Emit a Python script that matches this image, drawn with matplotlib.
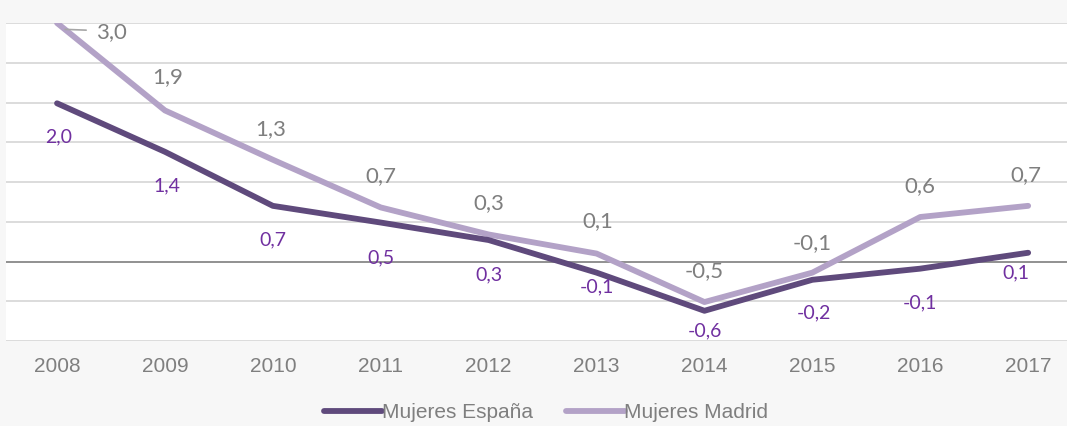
import matplotlib.pyplot as plt

years = ['2008', '2009', '2010', '2011', '2012', '2013', '2014', '2015', '2016', '2017']
espana = [1.99, 1.38, 0.70, 0.49, 0.27, -0.14, -0.62, -0.23, -0.09, 0.11]
madrid = [3.00, 1.90, 1.28, 0.68, 0.34, 0.10, -0.51, -0.14, 0.56, 0.70]
series_names = ['Mujeres España', 'Mujeres Madrid']

# label offsets in pixels (dx, dy) relative to the point
off_espana = [(2, -34), (2, -34), (0, -34), (0, -35), (0, -35),
              (0, -14), (0, -20), (2, -33), (0, -34), (-12, -20)]
off_madrid = [(54, -9), (3, 33), (-2, 31), (0, 31), (0, 31),
              (1, 32), (0, 31), (0, 30), (0, 31), (-2, 31)]

dark = '#5f4a7c'
light = '#b3a2c7'
bg = '#f7f7f7'

fig = plt.figure(figsize=(10.67, 4.26), dpi=100, facecolor=bg)
ax = fig.add_axes([6 / 1067, 1 - 341 / 426, 1061 / 1067, 318 / 426])
ax.set_facecolor('white')

x = list(range(len(years)))
ax.plot(x, espana, color=dark, lw=4.2, solid_capstyle='round', solid_joinstyle='round',
        label=series_names[0], zorder=4)
ax.plot(x, madrid, color=light, lw=4.2, solid_capstyle='round', solid_joinstyle='round',
        label=series_names[1], zorder=3)

def fmt(v):
    return f'{v:.1f}'.replace('.', ',')

for i, v in enumerate(espana):
    dx, dy = off_espana[i]
    ax.annotate(fmt(v), (i, v), xytext=(dx, dy), textcoords='offset pixels',
                ha='center', va='center', color='#7030a0', fontsize=14,
                family=['Lato', 'DejaVu Sans'], zorder=5)
for i, v in enumerate(madrid):
    dx, dy = off_madrid[i]
    ax.annotate(fmt(v), (i, v), xytext=(dx, dy), textcoords='offset pixels',
                ha='center', va='center', color='#7f7f7f', fontsize=16,
                family=['Lato', 'DejaVu Sans'], zorder=5)

# short leader line for the 2008 Madrid label
ax.annotate('', (0.075, madrid[0] - 0.08), xytext=(0.27, madrid[0] - 0.09),
            arrowprops=dict(arrowstyle='-', color='#a6a6a6', lw=1.2,
                            shrinkA=0, shrinkB=0))

ax.set_xlim(-0.473, 9.36)
ax.set_ylim(-1, 3)
ax.set_yticks([-1, -0.5, 0, 0.5, 1, 1.5, 2, 2.5, 3])
ax.yaxis.grid(True, color='#d9d9d9', lw=1.3)
ax.set_axisbelow(True)
ax.axhline(0, color='#8c8c8c', lw=1.3, zorder=2)
ax.tick_params(axis='y', left=False, labelleft=False)
ax.tick_params(axis='x', bottom=False, pad=8, labelsize=15, labelcolor='#7f7f7f')
ax.set_xticks(x)
ax.set_xticklabels(years, family='Liberation Sans')
for s in ax.spines.values():
    s.set_visible(False)

leg = fig.legend(loc='center', bbox_to_anchor=(546 / 1067, 1 - 413 / 426), ncol=2,
                 frameon=False, prop={'family': 'Liberation Sans', 'size': 15},
                 handlelength=2.8, handletextpad=0.0, columnspacing=1.6,
                 borderpad=0)
for t in leg.get_texts():
    t.set_color('#7f7f7f')
for h in leg.get_lines():
    h.set_linewidth(4.2)
    h.set_solid_capstyle('round')

fig.savefig('out.png', dpi=100, facecolor=bg)
